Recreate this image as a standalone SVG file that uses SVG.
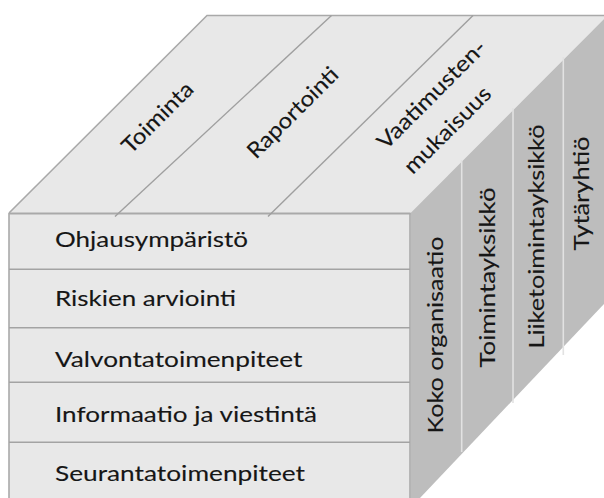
<svg xmlns="http://www.w3.org/2000/svg" width="604" height="498" viewBox="0 0 604 498">
  <style>
    .face-light { fill: #e8e8e8; }
    .face-dark { fill: #bdbdbd; }
    .edge { fill: none; stroke: #a9a9a9; stroke-width: 1.6; }
    .row-line { stroke: #a3a3a3; stroke-width: 1.5; }
    .divider { stroke: #9f9f9f; stroke-width: 1.4; }
    .divider-light { stroke: #e2e2e2; stroke-width: 1.6; }
    .label { font-family: Lato, "Open Sans", "Liberation Sans", sans-serif; font-size: 22px; fill: #161616; stroke: #161616; stroke-width: 0.12px; }
  </style>

  <!-- top face of the cube -->
  <g id="top-face">
    <polygon class="face-light" points="207,15.5 607.5,15.5 410.5,213 9,213"/>
    <polyline class="edge" points="9,213 207,15.5 607.5,15.5"/>
  </g>

  <!-- right face of the cube -->
  <g id="right-face">
    <polygon class="face-dark" points="410.5,213 607.5,15.5 607.5,300.3 410.5,508"/>
  </g>

  <!-- front face of the cube -->
  <g id="front-face">
    <rect class="face-light" x="9" y="213" width="401.5" height="300"/>
    <line class="edge" x1="9" y1="213" x2="9" y2="498"/>
    <line class="edge" x1="410" y1="213" x2="410" y2="498"/>
    <line class="edge" x1="9" y1="213.5" x2="410.5" y2="213.5" style="stroke-width:2"/>
  </g>

  <!-- dividing lines -->
  <g id="connectors">
    <line class="divider" x1="115" y1="216.5" x2="331.5" y2="15.5"/>
    <line class="divider" x1="268" y1="216.5" x2="473" y2="15.5"/>
    <line class="row-line" x1="9" y1="269.3" x2="410" y2="269.3"/>
    <line class="row-line" x1="9" y1="327.7" x2="410" y2="327.7"/>
    <line class="row-line" x1="9" y1="382.3" x2="410" y2="382.3"/>
    <line class="row-line" x1="9" y1="442.3" x2="410" y2="442.3"/>
    <line class="divider-light" x1="461.7" y1="160" x2="461.7" y2="452"/>
    <line class="divider-light" x1="513" y1="108" x2="513" y2="403"/>
    <line class="divider-light" x1="563.3" y1="57" x2="563.3" y2="355"/>
  </g>

  <!-- top face labels -->
  <g id="col-toiminta">
    <text class="label" text-anchor="middle" textLength="91" lengthAdjust="spacingAndGlyphs" transform="translate(162.8,122.8) rotate(-45)">Toiminta</text>
  </g>
  <g id="col-raportointi">
    <text class="label" text-anchor="middle" textLength="119" lengthAdjust="spacingAndGlyphs" transform="translate(298,118) rotate(-45)">Raportointi</text>
  </g>
  <g id="col-vaatimustenmukaisuus">
    <text class="label" text-anchor="middle" textLength="144" lengthAdjust="spacingAndGlyphs" transform="translate(436.8,99.8) rotate(-45)">Vaatimusten-</text>
    <text class="label" text-anchor="middle" textLength="113" lengthAdjust="spacingAndGlyphs" transform="translate(452.8,135.3) rotate(-45)">mukaisuus</text>
  </g>

  <!-- front face rows -->
  <g id="row-ohjausymparisto">
    <text class="label" x="55" y="246.7" textLength="193" lengthAdjust="spacingAndGlyphs">Ohjausympäristö</text>
  </g>
  <g id="row-riskien-arviointi">
    <text class="label" x="55" y="306" textLength="181" lengthAdjust="spacingAndGlyphs">Riskien arviointi</text>
  </g>
  <g id="row-valvontatoimenpiteet">
    <text class="label" x="55" y="366.7" textLength="247.5" lengthAdjust="spacingAndGlyphs">Valvontatoimenpiteet</text>
  </g>
  <g id="row-informaatio">
    <text class="label" x="55" y="421.7" textLength="262" lengthAdjust="spacingAndGlyphs">Informaatio ja viestintä</text>
  </g>
  <g id="row-seurantatoimenpiteet">
    <text class="label" x="55" y="480.7" textLength="250" lengthAdjust="spacingAndGlyphs">Seurantatoimenpiteet</text>
  </g>

  <!-- right face labels -->
  <g id="level-koko-organisaatio">
    <text class="label" text-anchor="middle" textLength="197" lengthAdjust="spacingAndGlyphs" transform="translate(443,335) rotate(-90)">Koko organisaatio</text>
  </g>
  <g id="level-toimintayksikko">
    <text class="label" text-anchor="middle" textLength="180" lengthAdjust="spacingAndGlyphs" transform="translate(495,277.5) rotate(-90)">Toimintayksikkö</text>
  </g>
  <g id="level-liiketoimintayksikko">
    <text class="label" text-anchor="middle" textLength="224" lengthAdjust="spacingAndGlyphs" transform="translate(543.5,236.5) rotate(-90)">Liiketoimintayksikkö</text>
  </g>
  <g id="level-tytaryhtio">
    <text class="label" text-anchor="middle" textLength="114" lengthAdjust="spacingAndGlyphs" transform="translate(588.5,193.5) rotate(-90)">Tytäryhtiö</text>
  </g>
</svg>
